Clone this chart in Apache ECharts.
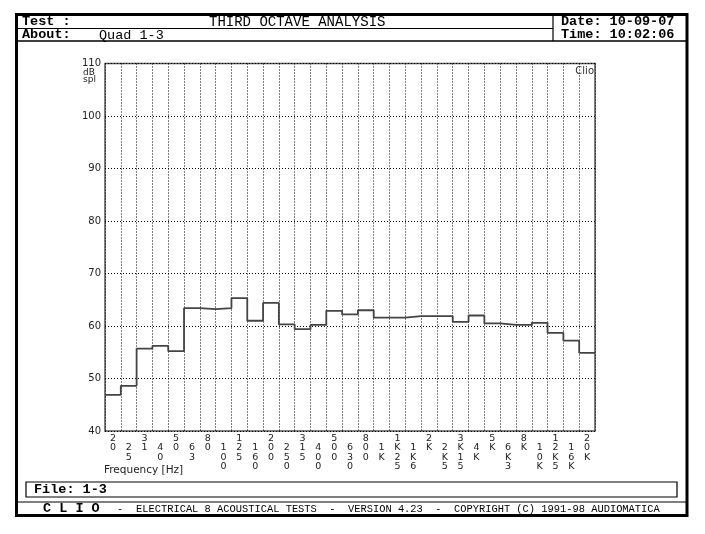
<!DOCTYPE html>
<html>
<head>
<meta charset="utf-8">
<script src="https://cdn.jsdelivr.net/npm/echarts@6/dist/echarts.min.js"></script>
<style>
html,body{margin:0;padding:0;background:#fff;}
#chart{width:705px;height:534px;}
</style>
</head>
<body>
<div id="chart"></div>
<script>
// Third-octave band labels (as printed, stacked vertically)
const bandLabels = ['20','25','31','40','50','63','80','100','125','160','200','250','315','400','500','630','800','1K','1K25','1K6','2K','2K5','3K15','4K','5K','6K3','8K','10K','12K5','16K','20K'];
// Band levels, dB SPL
const levels = [46.9, 48.6, 55.7, 56.2, 55.2, 63.4, 63.2, 63.4, 65.3, 61.0, 64.4, 60.3, 59.4, 60.2, 62.9, 62.2, 63.0, 61.6, 61.6, 61.9, 61.9, 61.9, 60.8, 62.0, 60.5, 60.2, 60.2, 60.6, 58.7, 57.2, 54.9];
const yMin = 40, yMax = 110, yStep = 10;

// step path: each band spans [i, i+1] on the band-index axis
const stepData = levels.map((v, i) => [i, v]);
stepData.push([levels.length, levels[levels.length - 1]]);

const mono = 'Liberation Mono';
const chart = echarts.init(document.getElementById('chart'), null, {renderer: 'canvas'});

function txt(text, x, y, size, bold, align) {
  return {
    type: 'text', z: 10,
    style: {
      text: text, x: x, y: y, fill: '#000',
      font: (bold ? 'bold ' : '') + size + 'px "' + mono + '"',
      align: align || 'left', verticalAlign: 'middle'
    }
  };
}
function ln(x1, y1, x2, y2, w) {
  return {type: 'line', z: 10, shape: {x1, y1, x2, y2}, style: {stroke: '#000', lineWidth: w}};
}

const option = {
  animation: false,
  backgroundColor: '#fff',
  grid: {left: 105, right: 110, top: 63.5, bottom: 103, show: true, borderColor: '#555', borderWidth: 1.5, backgroundColor: 'transparent'},
  xAxis: [
    {
      type: 'value', min: 0, max: bandLabels.length, interval: 1,
      axisLine: {show: false}, axisTick: {show: false}, axisLabel: {show: false},
      splitLine: {show: true, lineStyle: {type: [1, 2], color: '#000', width: 1.1}}
    },
    {
      type: 'category', data: bandLabels, boundaryGap: true, position: 'bottom',
      axisLine: {show: false}, axisTick: {show: false}, splitLine: {show: false},
      axisLabel: {
        interval: 0, margin: 2.5, fontSize: 9.5, lineHeight: 9.5,
        fontFamily: 'DejaVu Sans', color: '#222',
        formatter: function (v, i) { return (i % 2 ? '\n' : '') + v.split('').join('\n'); }
      }
    }
  ],
  yAxis: {
    type: 'value', min: yMin, max: yMax, interval: yStep,
    axisLine: {show: false}, axisTick: {show: false},
    axisLabel: {margin: 4, fontSize: 10, fontFamily: 'DejaVu Sans', color: '#222'},
    splitLine: {show: true, lineStyle: {type: [1, 2], color: '#000', width: 1.1}}
  },
  series: [{
    type: 'line', xAxisIndex: 0, yAxisIndex: 0, step: 'end',
    data: stepData, symbol: 'none',
    lineStyle: {color: '#444', width: 1.8}
  }],
  graphic: [
    {type: 'rect', z: 10, shape: {x: 16.5, y: 14.5, width: 670.5, height: 501}, style: {fill: 'none', stroke: '#000', lineWidth: 3}},
    ln(16, 28.5, 553, 28.5, 1.2),
    ln(16, 41, 687, 41, 1.5),
    ln(553, 14, 553, 41, 1.2),
    txt('Test :', 22, 22, 13.5, true),
    txt('THIRD OCTAVE ANALYSIS', 209, 22, 14, false),
    txt('About:', 22, 35, 13.5, true),
    txt('Quad 1-3', 99, 35, 13.5, false),
    txt('Date: 10-09-07', 561, 22, 13.5, true),
    txt('Time: 10:02:06', 561, 35, 13.5, true),
    {type: 'rect', z: 10, shape: {x: 26, y: 482, width: 651, height: 15}, style: {fill: 'none', stroke: '#000', lineWidth: 1.2}},
    txt('File: 1-3', 34, 489.5, 13.5, true),
    ln(16, 502, 687, 502, 1.2),
    txt('C L I O', 43, 509, 13.5, true),
    txt('-', 117, 509, 10.4, false),
    txt('ELECTRICAL 8 ACOUSTICAL TESTS  -  VERSION 4.23  -  COPYRIGHT (C) 1991-98 AUDIOMATICA', 136, 509, 10.4, false),
    {type: 'text', z: 10, style: {text: 'dB', x: 83, y: 72.5, fill: '#222', font: '9px "DejaVu Sans"', verticalAlign: 'middle'}},
    {type: 'text', z: 10, style: {text: 'spl', x: 83, y: 80, fill: '#222', font: '9px "DejaVu Sans"', verticalAlign: 'middle'}},
    {type: 'text', z: 10, style: {text: 'Frequency [Hz]', x: 104, y: 470, fill: '#222', font: '10.5px "DejaVu Sans"', verticalAlign: 'middle'}},
    {type: 'text', z: 10, style: {text: 'Clio', x: 594, y: 71, fill: '#333', font: '10px "DejaVu Sans"', align: 'right', verticalAlign: 'middle'}}
  ]
};
chart.setOption(option);
</script>
</body>
</html>
